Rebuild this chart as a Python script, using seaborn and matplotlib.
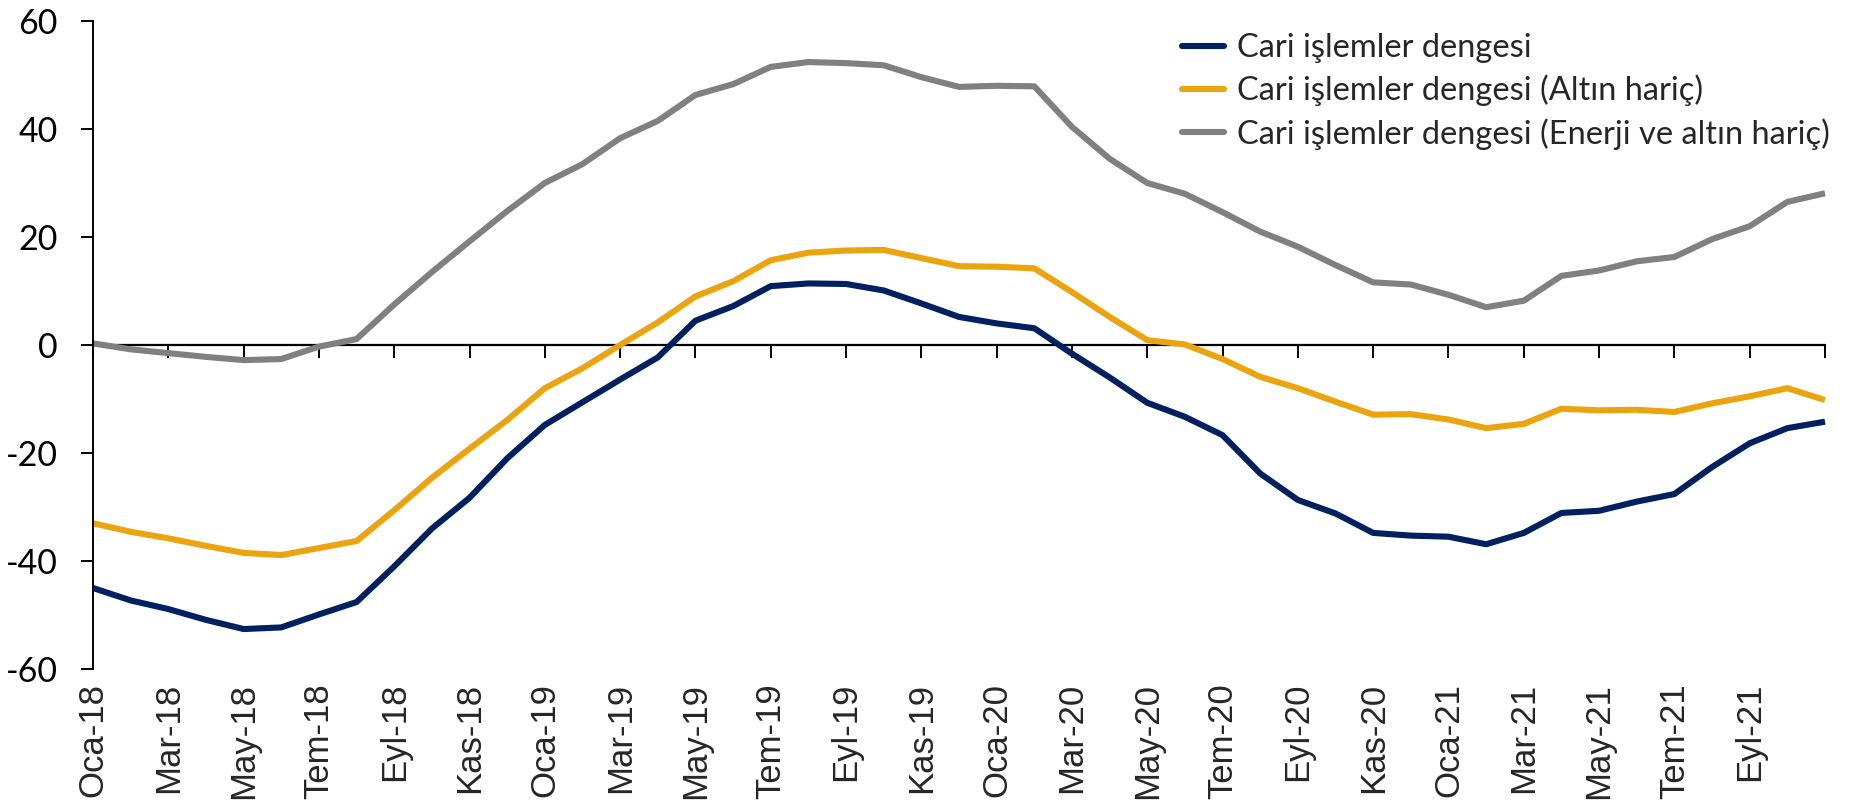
import matplotlib
matplotlib.use("Agg")
import matplotlib.pyplot as plt
import pandas as pd
import seaborn as sns

# Aylar: Oca-18 ... Kas-21
ay_adlari = ['Oca', 'Şub', 'Mar', 'Nis', 'May', 'Haz', 'Tem', 'Ağu', 'Eyl', 'Eki', 'Kas', 'Ara']
yillar = ['18', '19', '20', '21']
aylar = [f'{a}-{y}' for y in yillar for a in ay_adlari][:47]

cari = [-45.0, -47.3, -48.9, -50.9, -52.6, -52.3, -49.9, -47.6, -41.0, -34.0,
        -28.3, -21.0, -14.8, -10.6, -6.4, -2.3, 4.5, 7.2, 10.9, 11.4,
        11.3, 10.1, 7.7, 5.2, 4.0, 3.1, -1.6, -6.0, -10.7, -13.3,
        -16.7, -23.8, -28.7, -31.2, -34.8, -35.3, -35.5, -36.9, -34.8, -31.1,
        -30.7, -29.0, -27.6, -22.6, -18.2, -15.4, -14.2]
altin_haric = [-33.0, -34.6, -35.8, -37.2, -38.5, -38.9, -37.6, -36.3, -30.6, -24.6,
               -19.2, -13.9, -8.0, -4.3, 0.0, 4.2, 9.0, 11.8, 15.7, 17.1,
               17.5, 17.6, 16.1, 14.6, 14.5, 14.2, 9.8, 5.2, 0.9, 0.1,
               -2.6, -5.9, -8.0, -10.5, -12.9, -12.8, -13.8, -15.4, -14.6, -11.8,
               -12.1, -12.0, -12.4, -10.8, -9.5, -8.0, -10.2]
enerji_altin_haric = [0.3, -0.8, -1.5, -2.2, -2.8, -2.6, -0.3, 1.1, 7.5, 13.5,
                      19.2, 24.8, 30.0, 33.5, 38.3, 41.5, 46.3, 48.3, 51.5, 52.4,
                      52.2, 51.8, 49.6, 47.8, 48.0, 47.9, 40.4, 34.5, 30.0, 28.0,
                      24.6, 21.0, 18.2, 14.8, 11.6, 11.2, 9.3, 7.0, 8.2, 12.8,
                      13.8, 15.5, 16.3, 19.6, 22.0, 26.5, 28.1]

seri_adlari = ['Cari işlemler dengesi',
               'Cari işlemler dengesi (Altın hariç)',
               'Cari işlemler dengesi (Enerji ve altın hariç)']
renkler = ['#002060', '#EBA40D', '#808080']

df = pd.DataFrame({'ay_no': list(range(len(aylar))) * 3,
                   'deger': cari + altin_haric + enerji_altin_haric,
                   'seri': sum([[s] * len(aylar) for s in seri_adlari], [])})

sns.set_style('white')
plt.rcParams['font.family'] = ['Lato', 'DejaVu Sans']
plt.rcParams['axes.unicode_minus'] = False

fig = plt.figure(figsize=(18.58, 8.09), dpi=100)
ax = fig.add_axes([93 / 1858, 1 - 669 / 809, (1825 - 93) / 1858, (669 - 21) / 809])

sns.lineplot(data=df, x='ay_no', y='deger', hue='seri', hue_order=seri_adlari,
             palette=renkler, linewidth=4.4, ax=ax, legend=False)
for line in ax.lines:
    line.set_clip_on(False)
    line.set_solid_capstyle('butt')

ax.set_xlim(0, len(aylar) - 1)
ax.set_ylim(-60, 60)
ax.set_xlabel('')
ax.set_ylabel('')

# y ekseni
ax.set_yticks(range(-60, 61, 20))
ax.tick_params(axis='y', left=True, length=8.6, width=1.4, pad=17, labelsize=24.5,
               colors='black', direction='out')
for sp in ['top', 'right']:
    ax.spines[sp].set_visible(False)
ax.spines['left'].set_linewidth(1.4)
ax.spines['left'].set_color('black')

# x ekseni sıfırda, etiketler altta
tick_pos = list(range(0, len(aylar), 2))
tick_lab = [aylar[i] for i in tick_pos]
tick_lab[-1] = ''
ax.spines['bottom'].set_position(('data', 0))
ax.spines['bottom'].set_linewidth(1.6)
ax.spines['bottom'].set_color('black')
ax.spines['bottom'].set_zorder(1)
ax.set_xticks(tick_pos)
ax.tick_params(axis='x', bottom=True, length=9.4, width=1.4, direction='out',
               labelbottom=False, colors='black')

sec = ax.secondary_xaxis(0)
sec.set_xticks(tick_pos)
sec.set_xticklabels(tick_lab, rotation=90, fontsize=25, family='Liberation Sans', va='top')
sec.tick_params(bottom=False, length=0, pad=10)
sec.spines['bottom'].set_visible(False)

# lejant
handles = [plt.Line2D([], [], color=c, lw=4.4, solid_capstyle='round') for c in renkler]
ax.legend(handles, seri_adlari, loc='upper left', bbox_to_anchor=(1182 / 1858, 1 - 33 / 809),
          bbox_transform=fig.transFigure, frameon=False, fontsize=23.5,
          handlelength=1.3, handletextpad=0.4, labelspacing=0.36, borderpad=0, borderaxespad=0)

fig.savefig('out.png', dpi=100)
